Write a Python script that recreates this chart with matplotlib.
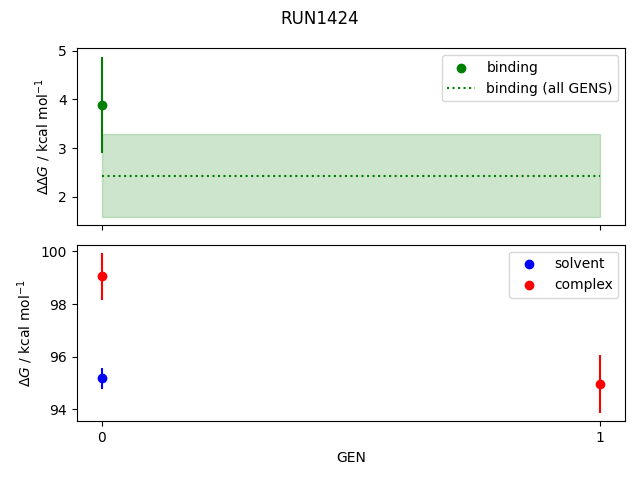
import numpy as np
import matplotlib
matplotlib.use("Agg")
import matplotlib.pyplot as plt

run_name = "RUN1424"

binding_gens = [0]
binding_dg = [3.89]
binding_err = [0.99]

all_gens_dg = 2.43
all_gens_err = 0.85

solvent_gens = [0]
solvent_dg = [95.18]
solvent_err = [0.40]

complex_gens = [0, 1]
complex_dg = [99.05, 94.95]
complex_err = [0.90, 1.10]

gen_range = [0, 1]

fig, axes = plt.subplots(2, 1, sharex=True, figsize=(6.4, 4.8))

ax = axes[0]
ax.scatter(binding_gens, binding_dg, color="green", label="binding")
ax.errorbar(binding_gens, binding_dg, yerr=binding_err, color="green", fmt="none")
ax.hlines(all_gens_dg, gen_range[0], gen_range[1], color="green",
          linestyles="dotted", label="binding (all GENS)")
ax.fill_between(gen_range, all_gens_dg - all_gens_err, all_gens_dg + all_gens_err,
                color="green", alpha=0.2)
ax.set_ylabel(r"$\Delta\Delta G$ / kcal mol$^{-1}$")
ax.legend()

ax = axes[1]
ax.scatter(solvent_gens, solvent_dg, color="blue", label="solvent")
ax.errorbar(solvent_gens, solvent_dg, yerr=solvent_err, color="blue", fmt="none")
ax.scatter(complex_gens, complex_dg, color="red", label="complex")
ax.errorbar(complex_gens, complex_dg, yerr=complex_err, color="red", fmt="none")
ax.set_ylabel(r"$\Delta G$ / kcal mol$^{-1}$")
ax.set_xlabel("GEN")
ax.set_xticks(gen_range)
ax.legend()

fig.suptitle(run_name)
fig.subplots_adjust(left=0.120, right=0.977, top=0.899, bottom=0.122, hspace=0.109)
fig.savefig("out.png", dpi=100)
